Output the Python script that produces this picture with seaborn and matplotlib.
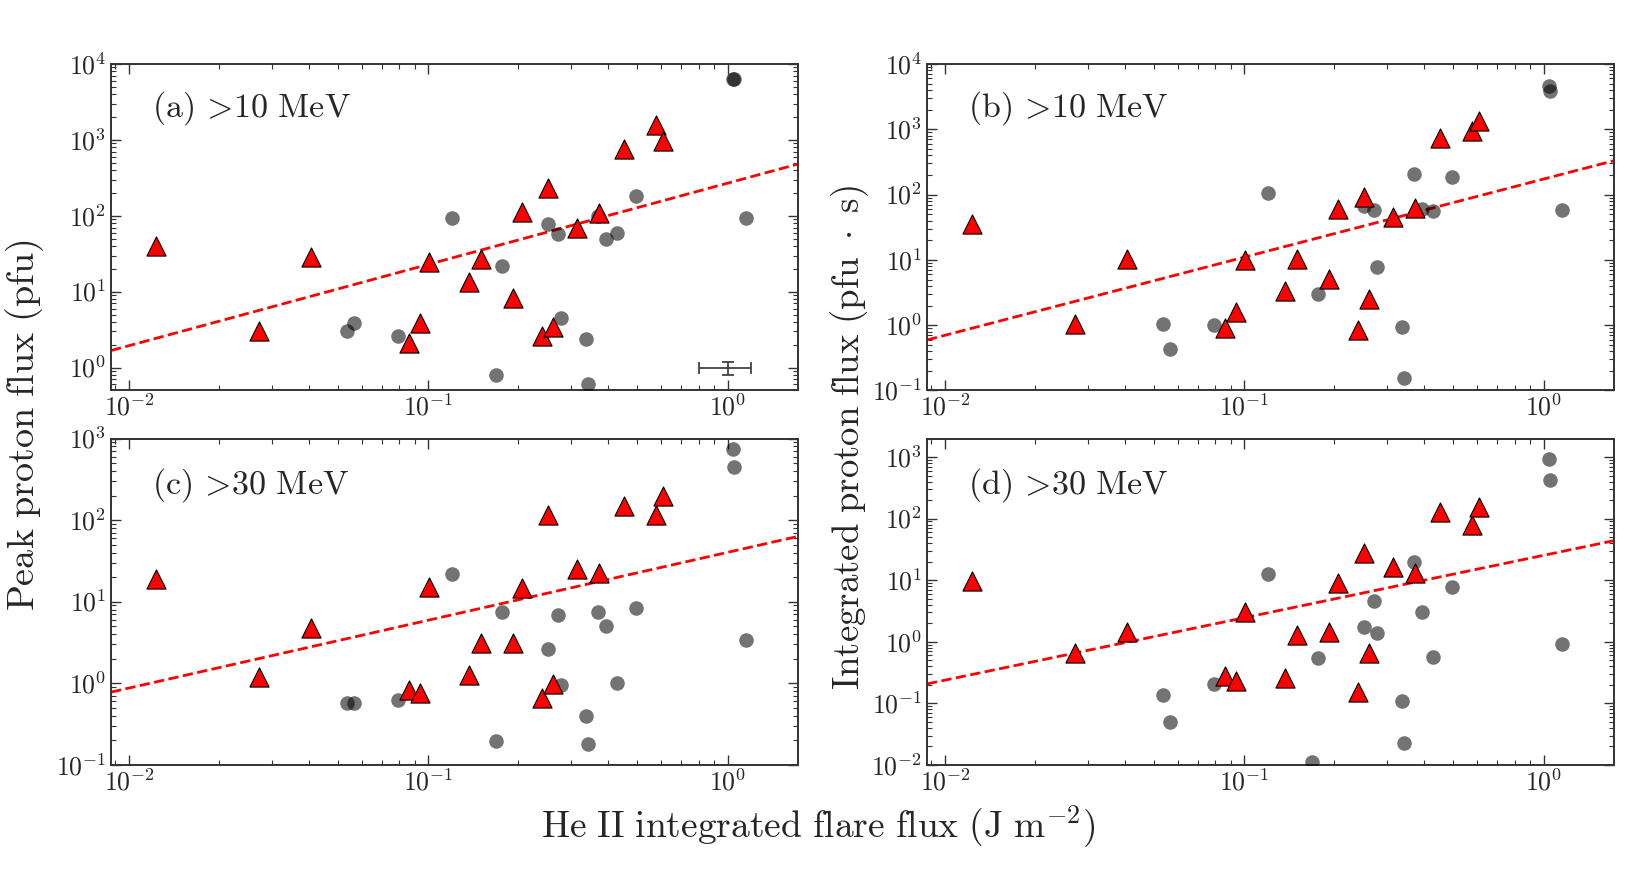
import numpy as np
import pandas as pd
import matplotlib
matplotlib.use('Agg')
import matplotlib.pyplot as plt
from matplotlib.ticker import FuncFormatter, LogLocator, NullFormatter
import seaborn as sns

# ---- data ----
# flare events with a proton event (triangles) and the rest (circles)
tri_x = [0.0123, 0.0271, 0.0404, 0.0863, 0.0937, 0.1007, 0.137, 0.150, 0.192,
         0.205, 0.239, 0.251, 0.262, 0.314, 0.373, 0.452, 0.575, 0.610]
circ_x = [0.0535, 0.0565, 0.079, 0.120, 0.169, 0.176, 0.251, 0.271, 0.277,
          0.337, 0.342, 0.368, 0.393, 0.428, 0.494, 1.04, 1.05, 1.156]

peak10_tri = [39.5, 3.0, 28.3, 2.11, 3.83, 25, 13.3, 26.9, 8.26,
              114, 2.64, 236, 3.4, 69.5, 110, 754, 1575, 960]
peak10_circ = [3.04, 3.83, 2.64, 93, 0.81, 22, 79, 57, 4.5,
               2.38, 0.61, 100, 49, 59, 180, 6290, 6350, 93]

int10_tri = [35.8, 1.04, 10.4, 0.92, 1.6, 9.8, 3.37, 10.2, 5.1,
             59.5, 0.85, 92, 2.5, 45, 62, 745, 942, 1343]
int10_circ = [1.05, 0.43, 1.0, 104, 0.06, 2.96, 66, 59, 7.7,
              0.95, 0.158, 208, 61, 56, 185, 4530, 3800, 58]

peak30_tri = [19.2, 1.2, 4.75, 0.84, 0.76, 15.3, 1.28, 3.11, 3.11,
              14.9, 0.67, 117, 0.98, 25.4, 22.7, 151, 117, 200]
peak30_circ = [0.57, 0.57, 0.63, 21.7, 0.197, 7.5, 2.63, 6.84, 0.96,
               0.395, 0.18, 7.4, 5.07, 1.0, 8.3, 744, 448, 3.42]

int30_tri = [9.7, 0.66, 1.42, 0.28, 0.23, 3.04, 0.26, 1.28, 1.42,
             8.9, 0.154, 27.7, 0.67, 16.2, 12.9, 128, 79, 155]
int30_circ = [0.139, 0.05, 0.205, 12.6, 0.0112, 0.55, 1.71, 4.58, 1.38,
              0.11, 0.0228, 19.5, 3.07, 0.56, 7.65, 945, 425, 0.92]

# log-log fit lines: log10(y) = slope*log10(x) + icpt
fit_slope = [1.07, 1.196, 0.831, 1.013]
fit_icpt = [2.43, 2.238, 1.605, 1.404]

panel_text = [r'$\mathrm{(a)}\,>\!10\ \mathrm{MeV}$', r'$\mathrm{(b)}\,>\!10\ \mathrm{MeV}$',
              r'$\mathrm{(c)}\,>\!30\ \mathrm{MeV}$', r'$\mathrm{(d)}\,>\!30\ \mathrm{MeV}$']
ylims = [(0.5, 1e4), (0.1, 1e4), (0.1, 1e3), (0.01, 2000)]
xlim = (0.0087, 1.72)

# typical uncertainty shown in panel (a)
err_x, err_y, err_dx, err_dy = 1.0, 1.0, 0.2, 0.2

sns.set_style('ticks')
plt.rcParams['mathtext.fontset'] = 'cm'
plt.rcParams['xtick.direction'] = 'in'
plt.rcParams['ytick.direction'] = 'in'

fig = plt.figure(figsize=(16.36, 8.77), dpi=100)
W, H = 1636, 877
boxes = [(111, 64), (927, 64), (111, 438.5), (927, 438.5)]
aw, ah = 687, 326.5

series = [(peak10_tri, peak10_circ), (int10_tri, int10_circ),
          (peak30_tri, peak30_circ), (int30_tri, int30_circ)]

fmt = FuncFormatter(lambda v, p: r'$10^{%d}$' % round(np.log10(v)))

for i, (bx, by) in enumerate(boxes):
    ax = fig.add_axes([bx / W, 1 - (by + ah) / H, aw / W, ah / H])
    ax.set_xscale('log')
    ax.set_yscale('log')
    ax.set_xlim(*xlim)
    ax.set_ylim(*ylims[i])

    tri_y, circ_y = series[i]
    xx = np.array(xlim)
    yy = 10 ** (fit_slope[i] * np.log10(xx) + fit_icpt[i])
    sns.lineplot(x=xx, y=yy, ax=ax, color='red', linestyle='--', lw=2, zorder=2)
    sns.scatterplot(x=circ_x, y=circ_y, ax=ax, marker='o', s=110, color='k',
                    alpha=0.55, linewidth=0, zorder=3)
    sns.scatterplot(x=tri_x, y=tri_y, ax=ax, marker='^', s=190, color='red',
                    edgecolor='k', linewidth=0.8, zorder=4)
    if i == 0:
        ax.errorbar(err_x, err_y, xerr=err_dx, yerr=err_dy, color='#333333',
                    lw=1.2, capsize=4, capthick=1.2)

    ax.text(0.06, 0.865 if i < 2 else 0.858, panel_text[i], transform=ax.transAxes,
            fontsize=24.5, ha='left', va='center')

    ax.xaxis.set_major_formatter(fmt)
    ax.yaxis.set_major_formatter(fmt)
    ax.xaxis.set_minor_locator(LogLocator(base=10, subs=np.arange(2, 10)))
    ax.yaxis.set_minor_locator(LogLocator(base=10, subs=np.arange(2, 10), numticks=20))
    ax.yaxis.set_major_locator(LogLocator(base=10, numticks=20))
    ax.xaxis.set_minor_formatter(NullFormatter())
    ax.yaxis.set_minor_formatter(NullFormatter())
    ax.tick_params(which='both', top=True, right=True, direction='in',
                   labelsize=18.5, color='#333333')
    ax.tick_params(which='major', length=7, width=1)
    ax.tick_params(which='minor', length=3.5, width=0.8)
    for s in ax.spines.values():
        s.set_linewidth(1.4)
        s.set_color('#333333')

fig.text(25 / W, 1 - 425 / H, r'$\mathrm{Peak\ proton\ flux\ (pfu)}$',
         rotation=90, fontsize=27.5, ha='center', va='center')
fig.text(850 / W, 1 - 438 / H, r'$\mathrm{Integrated\ proton\ flux\ (pfu}\ \cdot\ \mathrm{s)}$',
         rotation=90, fontsize=26.5, ha='center', va='center')
fig.text(818 / W, 1 - 827 / H, r'$\mathrm{He\ II\ integrated\ flare\ flux\ (J\ m^{-2})}$',
         fontsize=27, ha='center', va='center')

fig.savefig('out.png', dpi=100)
